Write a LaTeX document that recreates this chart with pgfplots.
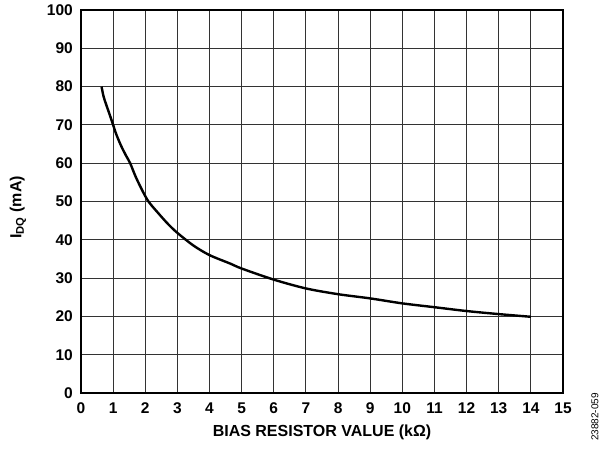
\documentclass[border=0pt]{standalone}
\usepackage{pgfplots}
\pgfplotsset{compat=1.18}
\usepackage{fontspec}
\setmainfont{Liberation Sans}
\usetikzlibrary{calc}
\begin{document}
\begin{tikzpicture}
\begin{axis}[
  name=ax,
  scale only axis,
  width=482pt, height=383pt,
  xmin=0, xmax=15, ymin=0, ymax=100,
  xtick distance=1, ytick distance=10,
  grid=major,
  major grid style={black!80, line width=0.9pt},
  axis line style={line width=1.3pt},
  tick style={draw=none},
  /pgf/number format/assume math mode=true,
  ticklabel style={font=\fontsize{15.5}{17}\selectfont\bfseries, inner sep=0pt},
  xticklabel style={anchor=center, yshift=-15pt},
  yticklabel style={anchor=east, xshift=-8pt},
  xlabel={BIAS RESISTOR VALUE (kΩ)},
  ylabel={I\textsubscript{DQ} (mA)},
  label style={font=\fontsize{16}{18}\selectfont\bfseries},
  xlabel style={at={(axis description cs:0.5,-0.104)}, anchor=center},
  ylabel style={at={(axis description cs:-0.131,0.485)}, anchor=center},
]
\addplot[black, line width=2.4pt, smooth] coordinates {
  (0.64,80)(0.7,77.5)(0.78,75.4)(0.9,72.5)(1.0,70)(1.1,67.5)(1.25,64.5)
  (1.4,62)(1.53,60)(1.7,56.5)(1.9,53)(2.1,50)(2.4,47)(2.7,44.2)(3.0,41.8)
  (3.5,38.5)(4.0,36)(4.64,33.8)(5,32.5)(6,29.6)(7,27.3)(8,25.8)(9,24.7)
  (10,23.4)(11,22.4)(12,21.4)(13,20.6)(14,19.9)
};
\end{axis}
\node[rotate=90, font=\fontsize{10}{11}\selectfont] at ($(ax.south east)+(32pt,-24pt)$) {23882-059};
\pgfresetboundingbox
\path ($(ax.south west)+(-81pt,-57pt)$) rectangle ($(ax.north east)+(42pt,10pt)$);
\end{tikzpicture}
\end{document}
